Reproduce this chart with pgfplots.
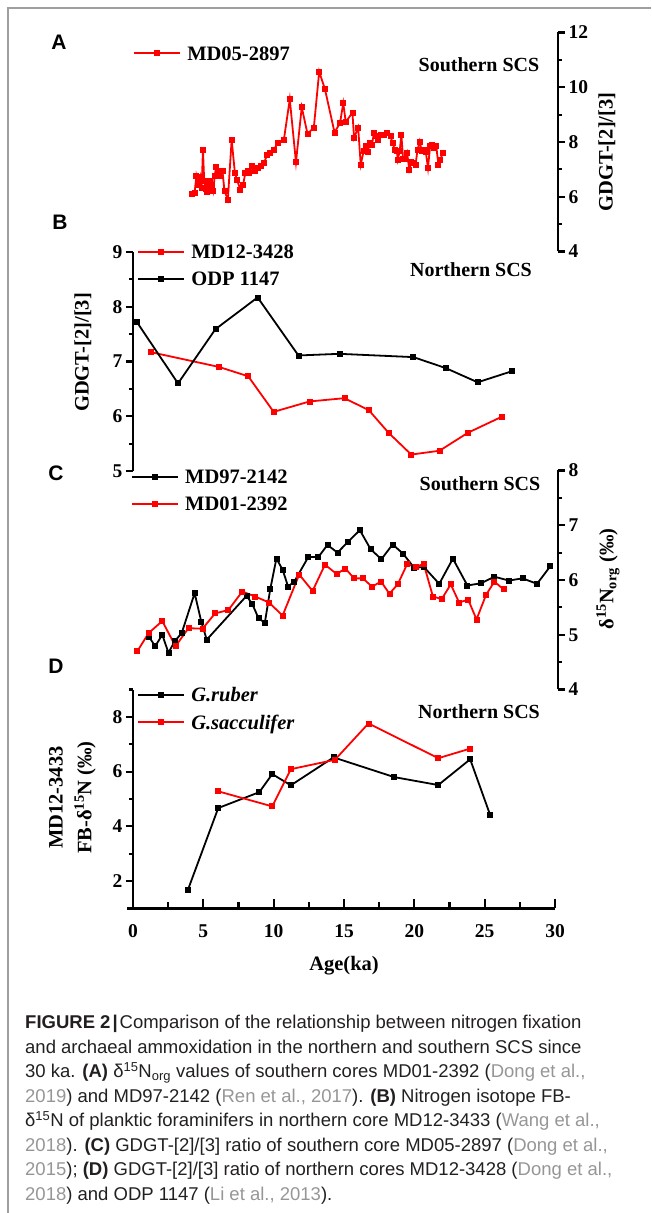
\documentclass[border=0pt]{standalone}
\usepackage{fontspec}
\setmainfont{Liberation Serif}
\newfontfamily\sansf{Liberation Sans}
\usepackage{pgfplots}
\pgfplotsset{compat=1.18}

\newcommand\tickfont{\fontsize{19.5}{20}\selectfont\bfseries}
\newcommand\legfont{\fontsize{20.5}{22}\selectfont\bfseries}
\newcommand\labfont{\fontsize{20}{22}\selectfont\bfseries}
\newcommand\titfont{\fontsize{20.5}{24}\selectfont\bfseries}
\newcommand\capfont{\sansf\fontsize{18.5}{24.5}\selectfont}
\newcommand\letfont{\sansf\bfseries\fontsize{21}{24}\selectfont}
\definecolor{cite}{RGB}{150,150,150}
\definecolor{captxt}{RGB}{35,31,32}

\pgfplotsset{
 base/.style={
  scale only axis, height=219pt, xmin=0, clip=false,
  axis line style={line width=2.4pt},
  every tick/.style={black, line width=2.2pt},
  major tick length=7pt, minor tick length=4pt,
  tick align=outside,
  tick label style={font=\tickfont},
  /pgf/number format/assume math mode=true,
  legend cell align=left,
  legend style={draw=none, fill=none, inner sep=0pt, outer sep=0pt, row sep=13.6pt,
     font=\legfont, anchor=north west,
     nodes={inner sep=0pt, text height=13.5pt, text depth=0pt},
     /tikz/every odd column/.append style={column sep=6.5pt}},
  legend image code/.code={\draw[mark repeat=2,mark phase=2,##1] plot coordinates {(0pt,0pt)(23pt,0pt)(46pt,0pt)};},
 },
 ser/.style={line width=1.8pt, mark=square*, mark size=2.5pt, mark options={solid, line width=0.8pt}},
}

\begin{document}
\begin{tikzpicture}[x=1pt,y=1pt]
\path[use as bounding box] (0,0) rectangle (651,1213);
\draw[line width=1.2pt, gray!75] (8,0) -- (8,1205) -- (651,1205);

% ---------- A ----------
\begin{axis}[base, at={(133pt,961.5pt)}, anchor=south west, width=425pt, xmax=30.2,
  ymin=4, ymax=12, axis x line=none, axis y line*=right,
  ytick={4,6,8,10,12}, minor ytick={5,7,9,11},
  legend style={at={(0,0.936)}}]
\addplot[ser, red] coordinates {(4.20,6.12)(4.38,6.15)(4.50,6.75)(4.62,6.45)(4.71,6.57)(4.79,6.73)(4.88,6.33)(4.97,7.72)(5.06,6.57)(5.15,6.27)(5.24,6.17)(5.32,6.39)(5.47,6.57)(5.62,6.39)(5.71,6.21)(5.80,6.75)(5.91,7.09)(6.06,6.93)(6.21,6.75)(6.36,6.93)(6.50,6.21)(6.74,5.90)(7.01,8.08)(7.24,6.87)(7.39,6.63)(7.63,6.24)(7.83,6.45)(7.98,6.87)(8.13,6.93)(8.27,6.87)(8.48,7.12)(8.66,6.93)(8.86,7.05)(9.10,7.12)(9.31,7.24)(9.54,7.54)(9.75,7.60)(9.99,7.70)(10.28,7.96)(10.72,8.08)(11.14,9.56)(11.58,7.26)(11.99,9.27)(12.40,8.30)(12.85,8.53)(13.23,10.57)(13.64,9.93)(14.32,8.35)(14.71,8.69)(14.94,9.42)(15.12,8.72)(15.59,9.08)(15.71,8.15)(16.00,8.53)(16.18,7.18)(16.39,7.66)(16.53,7.84)(16.68,7.64)(16.83,7.96)(16.98,7.90)(17.12,8.33)(17.27,8.21)(17.42,8.08)(17.63,8.27)(17.86,8.27)(18.07,8.33)(18.30,8.21)(18.45,7.96)(18.60,7.72)(18.75,7.66)(18.81,7.36)(18.95,7.66)(19.07,8.27)(19.19,7.38)(19.34,7.38)(19.48,7.60)(19.63,6.99)(19.78,7.27)(19.93,7.24)(20.07,7.15)(20.22,7.72)(20.37,8.02)(20.52,7.66)(20.66,7.72)(20.81,7.62)(20.96,7.05)(21.11,7.84)(21.25,7.90)(21.40,7.78)(21.55,7.84)(21.70,7.18)(21.84,7.36)(22.02,7.60)};
\addlegendentry{MD05-2897}
\end{axis}

% ---------- B ----------
\begin{axis}[base, at={(133pt,742pt)}, anchor=south west, width=422pt, xmax=30,
  ymin=5, ymax=9, axis x line=none, axis y line*=left,
  ytick={5,6,7,8,9}, minor ytick={5.5,6.5,7.5,8.5},
  legend style={at={(0.0095,1.031)}}]
\addplot[ser, red] coordinates {(1.28,7.17)(6.12,6.90)(8.19,6.73)(10.00,6.08)(12.55,6.27)(15.03,6.33)(16.77,6.11)(18.16,5.70)(19.78,5.30)(21.79,5.37)(23.82,5.70)(26.21,5.99)};
\addlegendentry{MD12-3428}
\addplot[ser, black] coordinates {(0.25,7.73)(3.20,6.60)(5.86,7.59)(8.86,8.17)(11.76,7.11)(14.68,7.14)(19.93,7.08)(22.23,6.88)(24.50,6.62)(26.91,6.82)};
\addlegendentry{ODP 1147}
\end{axis}

% ---------- C ----------
\begin{axis}[base, at={(133pt,523.5pt)}, anchor=south west, width=425pt, xmax=30.2,
  ymin=4, ymax=8, axis x line=none, axis y line*=right,
  ytick={4,5,6,7,8}, minor ytick={4.5,5.5,6.5,7.5},
  legend style={at={(-0.005,1.0014)}}]
\addplot[ser, black] coordinates {(1.14,4.96)(1.58,4.79)(2.08,5.00)(2.52,4.67)(2.96,4.88)(3.46,5.03)(4.38,5.76)(4.85,5.24)(5.24,4.91)(8.07,5.71)(8.48,5.56)(8.92,5.30)(9.37,5.22)(9.75,5.83)(10.19,6.39)(10.63,6.19)(11.02,5.88)(11.46,5.97)(12.46,6.42)(13.17,6.42)(13.82,6.64)(14.53,6.50)(15.29,6.70)(16.12,6.91)(16.89,6.56)(17.65,6.38)(18.45,6.65)(19.19,6.48)(19.99,6.22)(20.66,6.24)(21.76,5.93)(22.73,6.39)(23.76,5.90)(24.73,5.94)(25.68,6.06)(26.71,5.99)(27.68,6.03)(28.71,5.93)(29.65,6.25)};
\addlegendentry{MD97-2142}
\addplot[ser, red] coordinates {(0.31,4.70)(1.11,5.03)(2.08,5.25)(3.02,4.79)(3.94,5.12)(4.94,5.11)(5.83,5.39)(6.77,5.45)(7.77,5.79)(8.66,5.70)(9.66,5.59)(10.63,5.35)(11.81,6.10)(12.76,5.80)(13.64,6.28)(14.47,6.11)(15.09,6.21)(15.71,6.03)(16.33,6.03)(16.98,5.88)(17.63,5.97)(18.22,5.75)(18.81,5.92)(19.48,6.29)(20.07,6.24)(20.66,6.29)(21.31,5.70)(21.93,5.65)(22.58,5.92)(23.17,5.59)(23.82,5.64)(24.41,5.28)(25.09,5.73)(25.68,5.97)(26.33,5.83)};
\addlegendentry{MD01-2392}
\end{axis}

% ---------- D ----------
\begin{axis}[base, at={(133pt,304.5pt)}, anchor=south west, width=422pt, xmax=30,
  ymin=1, ymax=9, axis x line=none, axis y line*=left,
  ytick={2,4,6,8}, minor ytick={1,3,5,7,9},
  legend style={at={(0.0095,1.0046)}}]
\addplot[ser, black] coordinates {(3.91,1.69)(6.06,4.67)(8.98,5.25)(9.90,5.91)(11.22,5.50)(14.26,6.52)(18.57,5.80)(21.70,5.51)(23.97,6.45)(25.38,4.43)};
\addlegendentry{\textit{G.ruber}}
\addplot[ser, red] coordinates {(6.06,5.28)(9.90,4.73)(11.22,6.09)(14.35,6.43)(16.74,7.76)(21.70,6.49)(23.97,6.84)};
\addlegendentry{\textit{G.sacculifer}}
\end{axis}
\begin{axis}[base, at={(127.4pt,304.5pt)}, anchor=south west, width=427.6pt, xmin=-0.4, xmax=30,
  ymin=1, ymax=9, axis y line=none, axis x line*=bottom, tick align=inside,
  xtick={0,5,...,30}, minor xtick={2.5,7.5,...,27.5},
  xticklabel style={yshift=-13pt}, major tick length=9pt, minor tick length=6pt]
\end{axis}

% ---------- texts ----------
\node[font=\letfont] at (59,1171) {A};
\node[font=\letfont] at (60,991) {B};
\node[font=\letfont] at (56,740) {C};
\node[font=\letfont] at (56,547) {D};

\node[font=\labfont] at (479,1148) {Southern SCS};
\node[font=\labfont] at (471,943) {Northern SCS};
\node[font=\labfont] at (480,729.7) {Southern SCS};
\node[font=\labfont] at (479,501.3) {Northern SCS};

\node[font=\titfont, rotate=90] at (607,1061) {GDGT-[2]/[3]};
\node[font=\titfont, rotate=90] at (83,860.5) {GDGT-[2]/[3]};
\node[font=\titfont, rotate=90] at (608,634) {δ\textsuperscript{15}N\textsubscript{org} (‰)};
\node[font=\titfont, rotate=90] at (56,415.5) {MD12-3433};
\node[font=\titfont, rotate=90] at (85,415.5) {FB-δ\textsuperscript{15}N (‰)};
\node[font=\titfont] at (344,247) {Age(ka)};

% ---------- caption ----------
\begin{scope}[every node/.style={anchor=base west, inner sep=0pt, font=\capfont, text=captxt}]
\node at (25,184.4) {{\bfseries FIGURE 2\kern2pt|\kern2pt}Comparison of the relationship between nitrogen fixation};
\node at (25,159.9) {and archaeal ammoxidation in the northern and southern SCS since};
\node at (25,135.4) {30 ka. {\bfseries (A)} δ\textsuperscript{15}N\textsubscript{org} values of southern cores MD01-2392 ({\color{cite}Dong et al.,}};
\node at (25,110.9) {{\color{cite}2019}) and MD97-2142 ({\color{cite}Ren et al., 2017}). {\bfseries (B)} Nitrogen isotope FB-};
\node at (25,86.4) {δ\textsuperscript{15}N of planktic foraminifers in northern core MD12-3433 ({\color{cite}Wang et al.,}};
\node at (25,61.9) {{\color{cite}2018}). {\bfseries (C)} GDGT-[2]/[3] ratio of southern core MD05-2897 ({\color{cite}Dong et al.,}};
\node at (25,37.4) {{\color{cite}2015}); {\bfseries (D)} GDGT-[2]/[3] ratio of northern cores MD12-3428 ({\color{cite}Dong et al.,}};
\node at (25,12.9) {{\color{cite}2018}) and ODP 1147 ({\color{cite}Li et al., 2013}).};
\end{scope}
\end{tikzpicture}
\end{document}
